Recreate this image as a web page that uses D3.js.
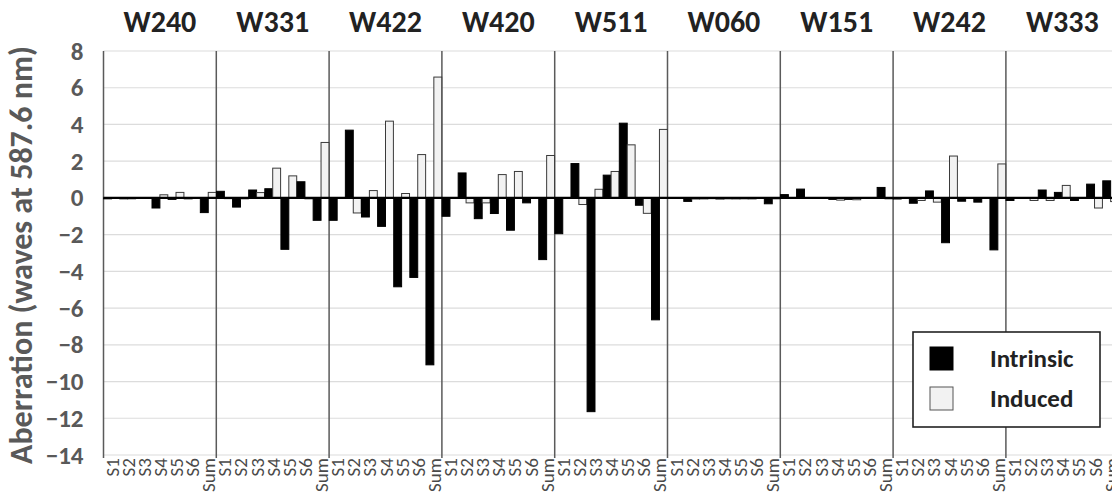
<!DOCTYPE html>
<html>
<head>
<meta charset="utf-8">
<script src="https://cdn.jsdelivr.net/npm/d3@7"></script>
<style>
  html, body { margin: 0; padding: 0; background: #fff; }
  svg { display: block; font-family: Calibri, Carlito, Lato, "Open Sans", sans-serif; }
</style>
</head>
<body>
<div id="chart"></div>
<script>
// Aberration contributions per surface, grouped by wavefront term

const groups = ["W240", "W331", "W422", "W420", "W511", "W060", "W151", "W242", "W333"];
const cats = ["S1", "S2", "S3", "S4", "S5", "S6", "Sum"];
const series = ["Intrinsic", "Induced"];
const yTicks = [8, 6, 4, 2, 0, -2, -4, -6, -8, -10, -12, -14];

// one row per group, S1..S6 then Sum
const intrinsic = [
  [-0.05, -0.05, -0.02, -0.55, -0.08, -0.05, -0.80],
  [0.36, -0.50, 0.43, 0.50, -2.80, 0.88, -1.22],
  [-1.22, 3.69, -1.04, -1.55, -4.84, -4.33, -9.09],
  [-1.00, 1.36, -1.13, -0.85, -1.76, -0.27, -3.36],
  [-1.95, 1.87, -11.64, 1.24, 4.07, -0.40, -6.64],
  [-0.02, -0.19, -0.05, -0.06, -0.05, -0.05, -0.32],
  [0.18, 0.48, 0.02, -0.08, -0.08, -0.02, 0.57],
  [-0.06, -0.29, 0.38, -2.44, -0.18, -0.23, -2.83],
  [-0.14, -0.03, 0.43, 0.30, -0.14, 0.75, 0.93]
];
const induced = [
  [-0.02, -0.05, 0.00, 0.17, 0.30, -0.03, 0.30],
  [-0.04, -0.05, 0.29, 1.62, 1.20, -0.05, 3.02],
  [0.00, -0.82, 0.40, 4.18, 0.24, 2.36, 6.58],
  [0.00, -0.27, -0.27, 1.27, 1.44, -0.02, 2.31],
  [0.00, -0.36, 0.47, 1.44, 2.89, -0.84, 3.73],
  [-0.02, -0.06, -0.04, -0.05, -0.05, -0.03, -0.05],
  [0.02, 0.00, 0.00, -0.12, -0.10, 0.00, -0.05],
  [-0.03, -0.14, -0.23, 2.28, -0.03, -0.03, 1.85],
  [-0.03, -0.14, -0.14, 0.68, -0.03, -0.55, -0.20]
];

const W = 1112, H = 503;
const M = { left: 103.5, top: 51, bottom: 455 };
const groupW = 112.8;
const TEXT = "#595959";

const svg = d3.select("#chart").append("svg")
  .attr("width", W)
  .attr("height", H);

// scales
const y = d3.scaleLinear().domain([-14, 8]).range([M.bottom, M.top]);
const x0 = d3.scaleBand().domain(groups)
  .range([M.left, M.left + groupW * groups.length])
  .padding(0);
const x1 = d3.scaleBand().domain(cats).range([0, x0.bandwidth()]).padding(0);
const x2 = d3.scaleBand().domain(series).range([0, x1.bandwidth()])
  .paddingInner(0).paddingOuter(0.02);
const plotRight = x0.range()[1];

// gridlines
svg.append("g")
  .selectAll("line")
  .data(yTicks)
  .join("line")
  .attr("x1", M.left)
  .attr("x2", plotRight)
  .attr("y1", d => y(d))
  .attr("y2", d => y(d))
  .attr("stroke", "#dcdcdc")
  .attr("stroke-width", 1.2);

// y axis labels
const yAxis = svg.append("g")
  .attr("transform", `translate(${M.left},0)`)
  .call(d3.axisLeft(y).tickValues(yTicks).tickSize(0).tickPadding(20));
yAxis.select(".domain").remove();
yAxis.selectAll("text")
  .attr("fill", TEXT)
  .attr("font-size", 25)
  .attr("font-weight", "bold")
  .attr("font-family", "Calibri, Carlito, Lato, 'Open Sans', sans-serif");

// axis title
svg.append("text")
  .attr("transform", `translate(32, ${(M.top + M.bottom) / 2 + 2}) rotate(-90)`)
  .attr("text-anchor", "middle")
  .attr("fill", TEXT)
  .attr("font-size", 32)
  .attr("font-weight", "bold")
  .text("Aberration (waves at 587.6 nm)");

// group separators (plus left axis line)
const seps = groups.map(g => x0(g)).concat([plotRight]);
svg.append("g")
  .selectAll("line")
  .data(seps)
  .join("line")
  .attr("x1", d => d)
  .attr("x2", d => d)
  .attr("y1", M.top)
  .attr("y2", M.bottom + 3)
  .attr("stroke", "#5a5a5a")
  .attr("stroke-width", 1.5);

// group labels
svg.append("g")
  .selectAll("text")
  .data(groups)
  .join("text")
  .attr("x", d => x0(d) + x0.bandwidth() / 2)
  .attr("y", 32)
  .attr("text-anchor", "middle")
  .attr("fill", "#222")
  .attr("font-size", 30)
  .attr("font-weight", "bold")
  .text(d => d);

// bars
const rows = [];
groups.forEach((g, gi) => {
  cats.forEach((c, ci) => {
    rows.push({ g, c, s: "Intrinsic", v: intrinsic[gi][ci] });
    rows.push({ g, c, s: "Induced", v: induced[gi][ci] });
  });
});

svg.append("g")
  .selectAll("rect")
  .data(rows)
  .join("rect")
  .attr("x", d => x0(d.g) + x1(d.c) + x2(d.s))
  .attr("width", x2.bandwidth())
  .attr("y", d => y(Math.max(0, d.v)))
  .attr("height", d => Math.abs(y(d.v) - y(0)))
  .attr("fill", d => d.s === "Intrinsic" ? "#000" : "#f2f2f2")
  .attr("stroke", d => d.s === "Intrinsic" ? "#000" : "#3a3a3a")
  .attr("stroke-width", 1);

// zero line
svg.append("line")
  .attr("x1", M.left)
  .attr("x2", plotRight)
  .attr("y1", y(0))
  .attr("y2", y(0))
  .attr("stroke", "#000")
  .attr("stroke-width", 2.4);

// category labels (rotated)
svg.append("g")
  .selectAll("text")
  .data(rows.filter(d => d.s === "Intrinsic"))
  .join("text")
  .attr("transform", d => {
    const cx = x0(d.g) + x1(d.c) + x1.bandwidth() / 2;
    return `translate(${cx + 7}, 458) rotate(-90)`;
  })
  .attr("text-anchor", "end")
  .attr("fill", "#4a4a4a")
  .attr("font-size", 19)
  .text(d => d.c);

// legend
const lg = svg.append("g").attr("transform", "translate(913,332)");
lg.append("rect")
  .attr("width", 187)
  .attr("height", 95)
  .attr("fill", "#fff")
  .attr("stroke", "#222")
  .attr("stroke-width", 1.6);
series.forEach((s, i) => {
  lg.append("rect")
    .attr("x", 17)
    .attr("y", 15 + i * 40)
    .attr("width", 23)
    .attr("height", 23)
    .attr("fill", s === "Intrinsic" ? "#000" : "#f2f2f2")
    .attr("stroke", s === "Intrinsic" ? "#000" : "#555")
    .attr("stroke-width", 1);
  lg.append("text")
    .attr("x", 77)
    .attr("y", 35 + i * 40)
    .attr("fill", "#222")
    .attr("font-size", 25)
    .attr("font-weight", "bold")
    .text(s);
});
</script>
</body>
</html>
